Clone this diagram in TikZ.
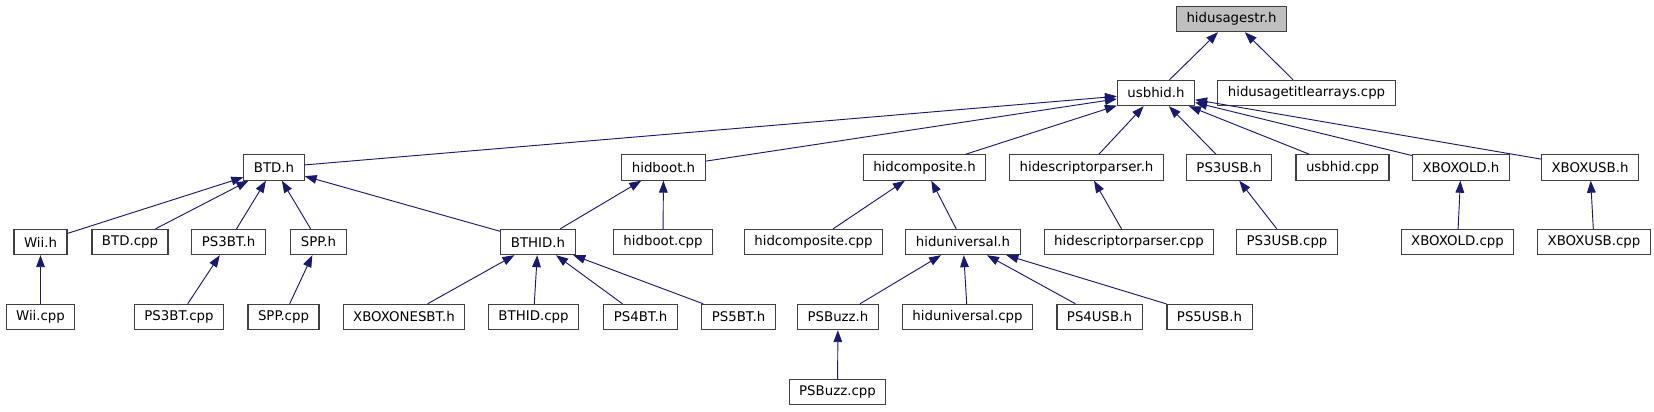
\documentclass[tikz,border=0pt]{standalone}
\usepackage{fontspec}
\setmainfont{DejaVu Sans}
\usepackage{xcolor}
\usepackage{tikz}
\usetikzlibrary{arrows.meta,positioning}

\definecolor{edgeblue}{HTML}{191970}

\begin{document}
\begin{tikzpicture}[
    x=0.75pt, y=-0.75pt,
    file/.style={rectangle, draw=black!75, line width=0.8pt, fill=#1, inner xsep=7.5pt, inner ysep=0pt,
        minimum height=19pt, font=\fontsize{10pt}{12pt}\selectfont},
    file/.default=white,
    inc/.style={draw=edgeblue, line width=0.7pt, -{Triangle[length=9pt,width=6.5pt]}}
]
    \useasboundingbox (0,0) rectangle (1654,411);

    % Top
    \node[file=black!25] (hidusagestr) at (1231.5,19) {hidusagestr.h};

    % Row 1
    \node[file] (usbhid) at (1156,93) {usbhid.h};
    \node[file] (titlearr) at (1306.5,93) {hidusagetitlearrays.cpp};

    % Row 2
    \node[file] (btd) at (274,167.5) {BTD.h};
    \node[file] (hidboot) at (663.5,167.5) {hidboot.h};
    \node[file] (hidcomp) at (924.5,167.5) {hidcomposite.h};
    \node[file] (hidparser) at (1086.5,167.5) {hidescriptorparser.h};
    \node[file] (ps3usb) at (1229,167.5) {PS3USB.h};
    \node[file] (usbhidcpp) at (1342.5,167.5) {usbhid.cpp};
    \node[file] (xboxold) at (1461,167.5) {XBOXOLD.h};
    \node[file] (xboxusb) at (1590,167.5) {XBOXUSB.h};

    % Row 3
    \node[file] (wii) at (40.5,242) {Wii.h};
    \node[file] (btdcpp) at (130,242) {BTD.cpp};
    \node[file] (ps3bt) at (228.5,242) {PS3BT.h};
    \node[file] (spp) at (318.5,242) {SPP.h};
    \node[file] (bthid) at (538,242) {BTHID.h};
    \node[file] (hidbootcpp) at (663,242) {hidboot.cpp};
    \node[file] (hidcompcpp) at (813.5,242) {hidcomposite.cpp};
    \node[file] (hiduniv) at (963,242) {hiduniversal.h};
    \node[file] (hidparsercpp) at (1129,242) {hidescriptorparser.cpp};
    \node[file] (ps3usbcpp) at (1287,242) {PS3USB.cpp};
    \node[file] (xboxoldcpp) at (1457.5,242) {XBOXOLD.cpp};
    \node[file] (xboxusbcpp) at (1594,242) {XBOXUSB.cpp};

    % Row 4
    \node[file] (wiicpp) at (40.5,317) {Wii.cpp};
    \node[file] (ps3btcpp) at (179,317) {PS3BT.cpp};
    \node[file] (sppcpp) at (283.5,317) {SPP.cpp};
    \node[file] (xboxonesbt) at (404,317) {XBOXONESBT.h};
    \node[file] (bthidcpp) at (533.5,317) {BTHID.cpp};
    \node[file] (ps4bt) at (640.5,317) {PS4BT.h};
    \node[file] (ps5bt) at (738.5,317) {PS5BT.h};
    \node[file] (psbuzz) at (838,317) {PSBuzz.h};
    \node[file] (hidunivcpp) at (967.5,317) {hiduniversal.cpp};
    \node[file] (ps4usb) at (1099.5,317) {PS4USB.h};
    \node[file] (ps5usb) at (1209.5,317) {PS5USB.h};

    % Row 5
    \node[file] (psbuzzcpp) at (837.5,392) {PSBuzz.cpp};

    % Includes
    \foreach \from/\to in {usbhid/hidusagestr, titlearr/hidusagestr,
        btd/usbhid, hidboot/usbhid, hidcomp/usbhid, hidparser/usbhid, ps3usb/usbhid,
        usbhidcpp/usbhid, xboxold/usbhid, xboxusb/usbhid,
        wii/btd, btdcpp/btd, ps3bt/btd, spp/btd, bthid/btd,
        bthid/hidboot, hidbootcpp/hidboot, hidcompcpp/hidcomp, hiduniv/hidcomp,
        hidparsercpp/hidparser, ps3usbcpp/ps3usb, xboxoldcpp/xboxold, xboxusbcpp/xboxusb,
        wiicpp/wii, ps3btcpp/ps3bt, sppcpp/spp,
        xboxonesbt/bthid, bthidcpp/bthid, ps4bt/bthid, ps5bt/bthid,
        psbuzz/hiduniv, hidunivcpp/hiduniv, ps4usb/hiduniv, ps5usb/hiduniv,
        psbuzzcpp/psbuzz}
        \draw[inc] (\from) -- (\to);
\end{tikzpicture}
\end{document}
